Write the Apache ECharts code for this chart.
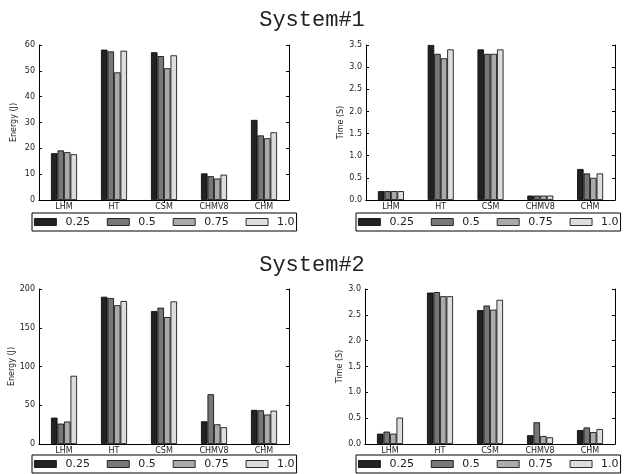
<!DOCTYPE html>
<html><head><meta charset="utf-8">
<script src="https://cdn.jsdelivr.net/npm/echarts@6/dist/echarts.min.js"></script>
<style>html,body{margin:0;padding:0;background:#fff}#c{width:624px;height:474px}</style>
</head><body><div id="c"></div>
<script>
const categories = ['LHM', 'HT', 'CSM', 'CHMV8', 'CHM'];
const seriesNames = ['0.25', '0.5', '0.75', '1.0'];
const seriesColors = ['#222222', '#777777', '#aaaaaa', '#dddddd'];

// System#1 Energy (J)
const s1Energy = [
  [18.1, 58.2, 57.2, 10.3, 31.0],
  [19.2, 57.5, 55.7, 9.2, 25.0],
  [18.5, 49.4, 51.0, 8.3, 23.9],
  [17.7, 57.8, 56.0, 9.8, 26.2]
];
// System#1 Time (S)
const s1Time = [
  [0.2, 3.5, 3.4, 0.1, 0.7],
  [0.2, 3.3, 3.3, 0.1, 0.6],
  [0.2, 3.2, 3.3, 0.1, 0.5],
  [0.2, 3.4, 3.4, 0.1, 0.6]
];
// System#2 Energy (J)
const s2Energy = [
  [34, 190, 171.6, 29.3, 44],
  [26.3, 188.4, 175.9, 64.2, 43.5],
  [29, 179, 163.8, 25.4, 38],
  [88, 184.5, 184, 21.6, 43]
];
// System#2 Time (S)
const s2Time = [
  [0.2, 2.93, 2.59, 0.17, 0.27],
  [0.24, 2.94, 2.68, 0.42, 0.32],
  [0.2, 2.86, 2.6, 0.155, 0.23],
  [0.51, 2.86, 2.79, 0.13, 0.29]
];

const panels = [
  {data: s1Energy, name: 'Energy (J)', max: 60, interval: 10, left: 39, top: 45, width: 250, dec: 0, leg: {left: 32, top: 213}},
  {data: s1Time, name: 'Time (S)', max: 3.5, interval: 0.5, left: 366, top: 45, width: 249, dec: 1, leg: {left: 356, top: 213}},
  {data: s2Energy, name: 'Energy (J)', max: 200, interval: 50, left: 39, top: 289, width: 250, dec: 0, leg: {left: 32, top: 455}},
  {data: s2Time, name: 'Time (S)', max: 3.0, interval: 0.5, left: 365, top: 289, width: 250, dec: 1, leg: {left: 356, top: 455}}
];

const grid = [], xAxis = [], yAxis = [], series = [], legend = [];
const lab = {fontFamily: 'DejaVu Sans', fontSize: 8, color: '#222'};
panels.forEach((p, i) => {
  grid.push({left: p.left, top: p.top, width: p.width, height: 155});
  xAxis.push({type: 'category', gridIndex: i, data: categories, position: 'bottom',
    axisLine: {lineStyle: {color: '#444', type: 'dashed', width: 1.2}},
    axisTick: {show: false}, axisLabel: Object.assign({}, lab, {margin: 3})});
  xAxis.push({type: 'category', gridIndex: i, data: categories, position: 'top',
    axisLine: {lineStyle: {color: '#000', width: 1}},
    axisTick: {show: true, inside: true, alignWithLabel: true, length: 3, lineStyle: {color: '#000'}},
    axisLabel: {show: false}});
  yAxis.push({type: 'value', gridIndex: i, min: 0, max: p.max, interval: p.interval, position: 'left',
    name: p.name, nameLocation: 'middle', nameGap: 21, nameTextStyle: lab,
    axisLine: {show: true, lineStyle: {color: '#000', width: 1}},
    axisTick: {show: true, inside: true, length: 3, lineStyle: {color: '#000'}},
    splitLine: {show: false},
    axisLabel: Object.assign({margin: 4, formatter: v => v.toFixed(p.dec)}, lab)});
  yAxis.push({type: 'value', gridIndex: i, min: 0, max: p.max, interval: p.interval, position: 'right',
    axisLine: {show: true, lineStyle: {color: '#000', width: 1}},
    axisTick: {show: true, inside: true, length: 3, lineStyle: {color: '#000'}},
    splitLine: {show: false}, axisLabel: {show: false}});
  p.data.forEach((vals, k) => {
    series.push({type: 'bar', name: seriesNames[k], xAxisIndex: i * 2, yAxisIndex: i * 2,
      data: vals, barWidth: 6.5, barGap: '0%', barCategoryGap: '0%',
      itemStyle: {color: seriesColors[k], borderColor: '#000', borderWidth: 0.8},
      emphasis: {disabled: true}, animation: false});
  });
  legend.push({left: p.leg.left, top: p.leg.top, orient: 'horizontal',
    data: seriesNames, itemWidth: 22, itemHeight: 7, itemGap: 17,
    borderColor: '#000', borderWidth: 1, padding: [3, 2], selectedMode: false,
    icon: 'rect',
    itemStyle: {borderColor: '#000', borderWidth: 0.8},
    formatter: name => '{a|' + name + '}',
    textStyle: {fontFamily: 'DejaVu Sans', fontSize: 11, color: '#222', lineHeight: 12,
      rich: {a: {padding: [0, 0, 0, 4], fontFamily: 'DejaVu Sans', fontSize: 11, color: '#222', lineHeight: 12}}}});
});

const chart = echarts.init(document.getElementById('c'), null, {renderer: 'canvas'});
chart.setOption({
  animation: false,
  color: seriesColors,
  title: [
    {text: 'System#1', left: 'center', top: 4, textStyle: {fontFamily: 'Liberation Mono', fontSize: 22, fontWeight: 'normal', color: '#222'}},
    {text: 'System#2', left: 'center', top: 249, textStyle: {fontFamily: 'Liberation Mono', fontSize: 22, fontWeight: 'normal', color: '#222'}}
  ],
  grid, xAxis, yAxis, series, legend
});
</script></body></html>
